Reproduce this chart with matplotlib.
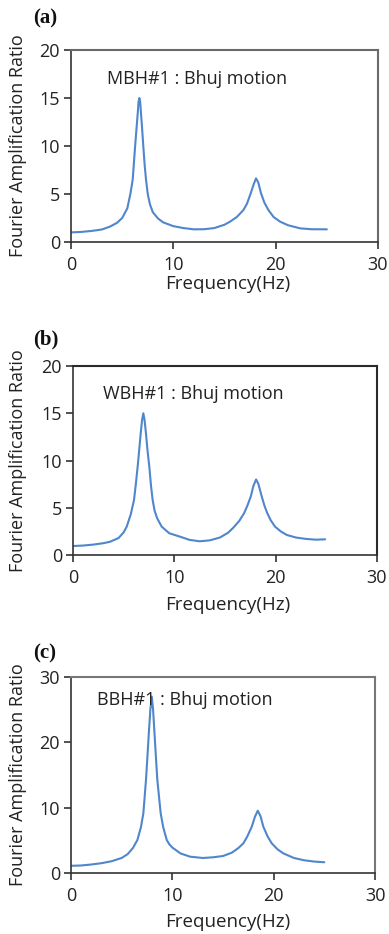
import matplotlib
matplotlib.use("Agg")
import matplotlib.pyplot as plt

# ---- data ----
freq_a = [0, 1, 2, 3, 3.8, 4.5, 5, 5.5, 5.8, 6.03, 6.26, 6.4, 6.52, 6.6, 6.68, 6.76, 6.84, 6.95, 7.07, 7.2, 7.33,
          7.5, 7.72, 8.0, 8.5, 9, 10, 11, 12, 13, 14, 15, 15.54, 16.2, 16.85, 17.2, 17.56, 17.85, 18.08, 18.3,
          18.57, 18.9, 19.29, 19.8, 20.43, 21.2, 22.4, 23.5, 25]
amp_a = [1.0, 1.05, 1.15, 1.3, 1.6, 2.0, 2.5, 3.5, 5.0, 6.5, 9.9, 11.8, 13.4, 14.6, 15.0, 14.6, 13.4, 11.8, 9.9, 8.0,
         6.5, 5.0, 3.9, 3.1, 2.45, 2.05, 1.65, 1.45, 1.32, 1.33, 1.45, 1.8, 2.12, 2.6, 3.33, 4.0, 5.07, 6.0, 6.63,
         6.2, 5.07, 4.1, 3.33, 2.6, 2.12, 1.75, 1.42, 1.33, 1.32]

freq_b = [0, 1, 2, 3, 3.65, 4.5, 5.0, 5.3, 5.7, 6.02, 6.2, 6.38, 6.55, 6.68, 6.82, 6.94, 7.06, 7.2, 7.35, 7.53, 7.7,
          7.86, 8.05, 8.3, 8.75, 9.5, 10.56, 11.5, 12.5, 13.5, 14.5, 15.3, 15.83, 16.4, 16.88, 17.2, 17.54, 17.8,
          18.07, 18.3, 18.63, 18.9, 19.18, 19.5, 19.94, 20.5, 21.1, 22, 23, 24, 24.88]
amp_b = [0.95, 1.0, 1.1, 1.25, 1.4, 1.8, 2.4, 3.0, 4.3, 5.82, 7.5, 9.35, 11.3, 12.87, 14.3, 15.0, 14.3, 12.87, 11.1,
         9.35, 7.3, 5.82, 4.7, 3.9, 3.0, 2.3, 1.94, 1.6, 1.45, 1.55, 1.85, 2.35, 2.9, 3.6, 4.41, 5.2, 6.17, 7.3,
         8.0, 7.5, 6.17, 5.2, 4.41, 3.7, 3.0, 2.5, 2.12, 1.85, 1.7, 1.62, 1.66]

freq_c = [0, 1, 2, 3, 4, 5, 5.6, 6.1, 6.55, 6.9, 7.14, 7.4, 7.55, 7.7, 7.83, 7.97, 8.1, 8.22, 8.37, 8.52, 8.85, 9.1,
          9.45, 9.7, 10, 10.8, 11.75, 13, 14, 15, 15.86, 16.5, 17.01, 17.4, 17.84, 18.15, 18.43, 18.7, 18.98, 19.4,
          19.81, 20.4, 20.96, 22, 23, 24, 25]
amp_c = [1.1, 1.15, 1.3, 1.5, 1.8, 2.3, 2.9, 3.8, 5.05, 7.0, 9.14, 14.24, 18.0, 21.9, 25.0, 27.0, 25.0, 21.9, 18.0,
         14.24, 9.14, 7.0, 5.05, 4.4, 3.9, 3.0, 2.5, 2.3, 2.4, 2.6, 3.1, 3.8, 4.54, 5.6, 7.09, 8.6, 9.54, 8.7, 7.09,
         5.6, 4.54, 3.6, 3.0, 2.3, 1.95, 1.75, 1.64]

panel_labels = ["(a)", "(b)", "(c)"]
annotations = ["MBH#1 : Bhuj motion", "WBH#1 : Bhuj motion", "BBH#1 : Bhuj motion"]
ymaxes = [20, 20, 30]
yticks = [[0, 5, 10, 15, 20], [0, 5, 10, 15, 20], [0, 10, 20, 30]]
xticks = [0, 10, 20, 30]
ann_pos = [(3.5, 17.0), (2.96, 17.0), (2.57, 26.5)]
spine_colors = ["#6a6a6a", "#2a2a2a", "#777777"]

plt.rcParams['font.family'] = ['Open Sans', 'DejaVu Sans']

W, H = 389, 934
fig = plt.figure(figsize=(W / 100, H / 100), dpi=100)

# axes pixel boxes: left, right, top, bottom
boxes = [(71, 378, 50, 242), (73, 377, 366, 555), (71, 375, 677, 873)]
plabel_y = [18, 339, 653]
xlabel_y = [284, 605, 922]

series = [(freq_a, amp_a), (freq_b, amp_b), (freq_c, amp_c)]
line_color = "#4f86cc"
txt = '#222222'

for i in range(3):
    l, r, t, b = boxes[i]
    ax = fig.add_axes([l / W, 1 - b / H, (r - l) / W, (b - t) / H])
    x, y = series[i]
    ax.plot(x, y, color=line_color, lw=1.5, solid_joinstyle='round', solid_capstyle='round')
    ax.set_xlim(0, 30)
    ax.set_ylim(0, ymaxes[i])
    ax.set_xticks(xticks)
    ax.set_yticks(yticks[i])
    ax.tick_params(direction='out', length=5, width=1.1, labelsize=13, colors=txt)
    ax.tick_params(axis='y', pad=3)
    ax.tick_params(axis='x', pad=5)
    for s in ['left', 'bottom']:
        ax.spines[s].set_color('#333333')
        ax.spines[s].set_linewidth(1.2)
    for s in ['top', 'right']:
        ax.spines[s].set_color(spine_colors[i])
        ax.spines[s].set_linewidth(1.5)
    ax.text(ann_pos[i][0], ann_pos[i][1], annotations[i], fontsize=13, color=txt, va='center', ha='left')
    fig.text(18 / W, 1 - ((t + b) / 2) / H, "Fourier Amplification Ratio", rotation=90,
             ha='center', va='center', fontsize=13, color=txt)
    fig.text(228 / W, 1 - xlabel_y[i] / H, "Frequency(Hz)", ha='center', va='center', fontsize=13.5, color=txt)
    fig.text(33 / W, 1 - plabel_y[i] / H, panel_labels[i], ha='left', va='center', fontsize=15,
             fontweight='bold', family=['Liberation Serif', 'DejaVu Serif'], color='#111111')

fig.savefig("out.png", dpi=100)
